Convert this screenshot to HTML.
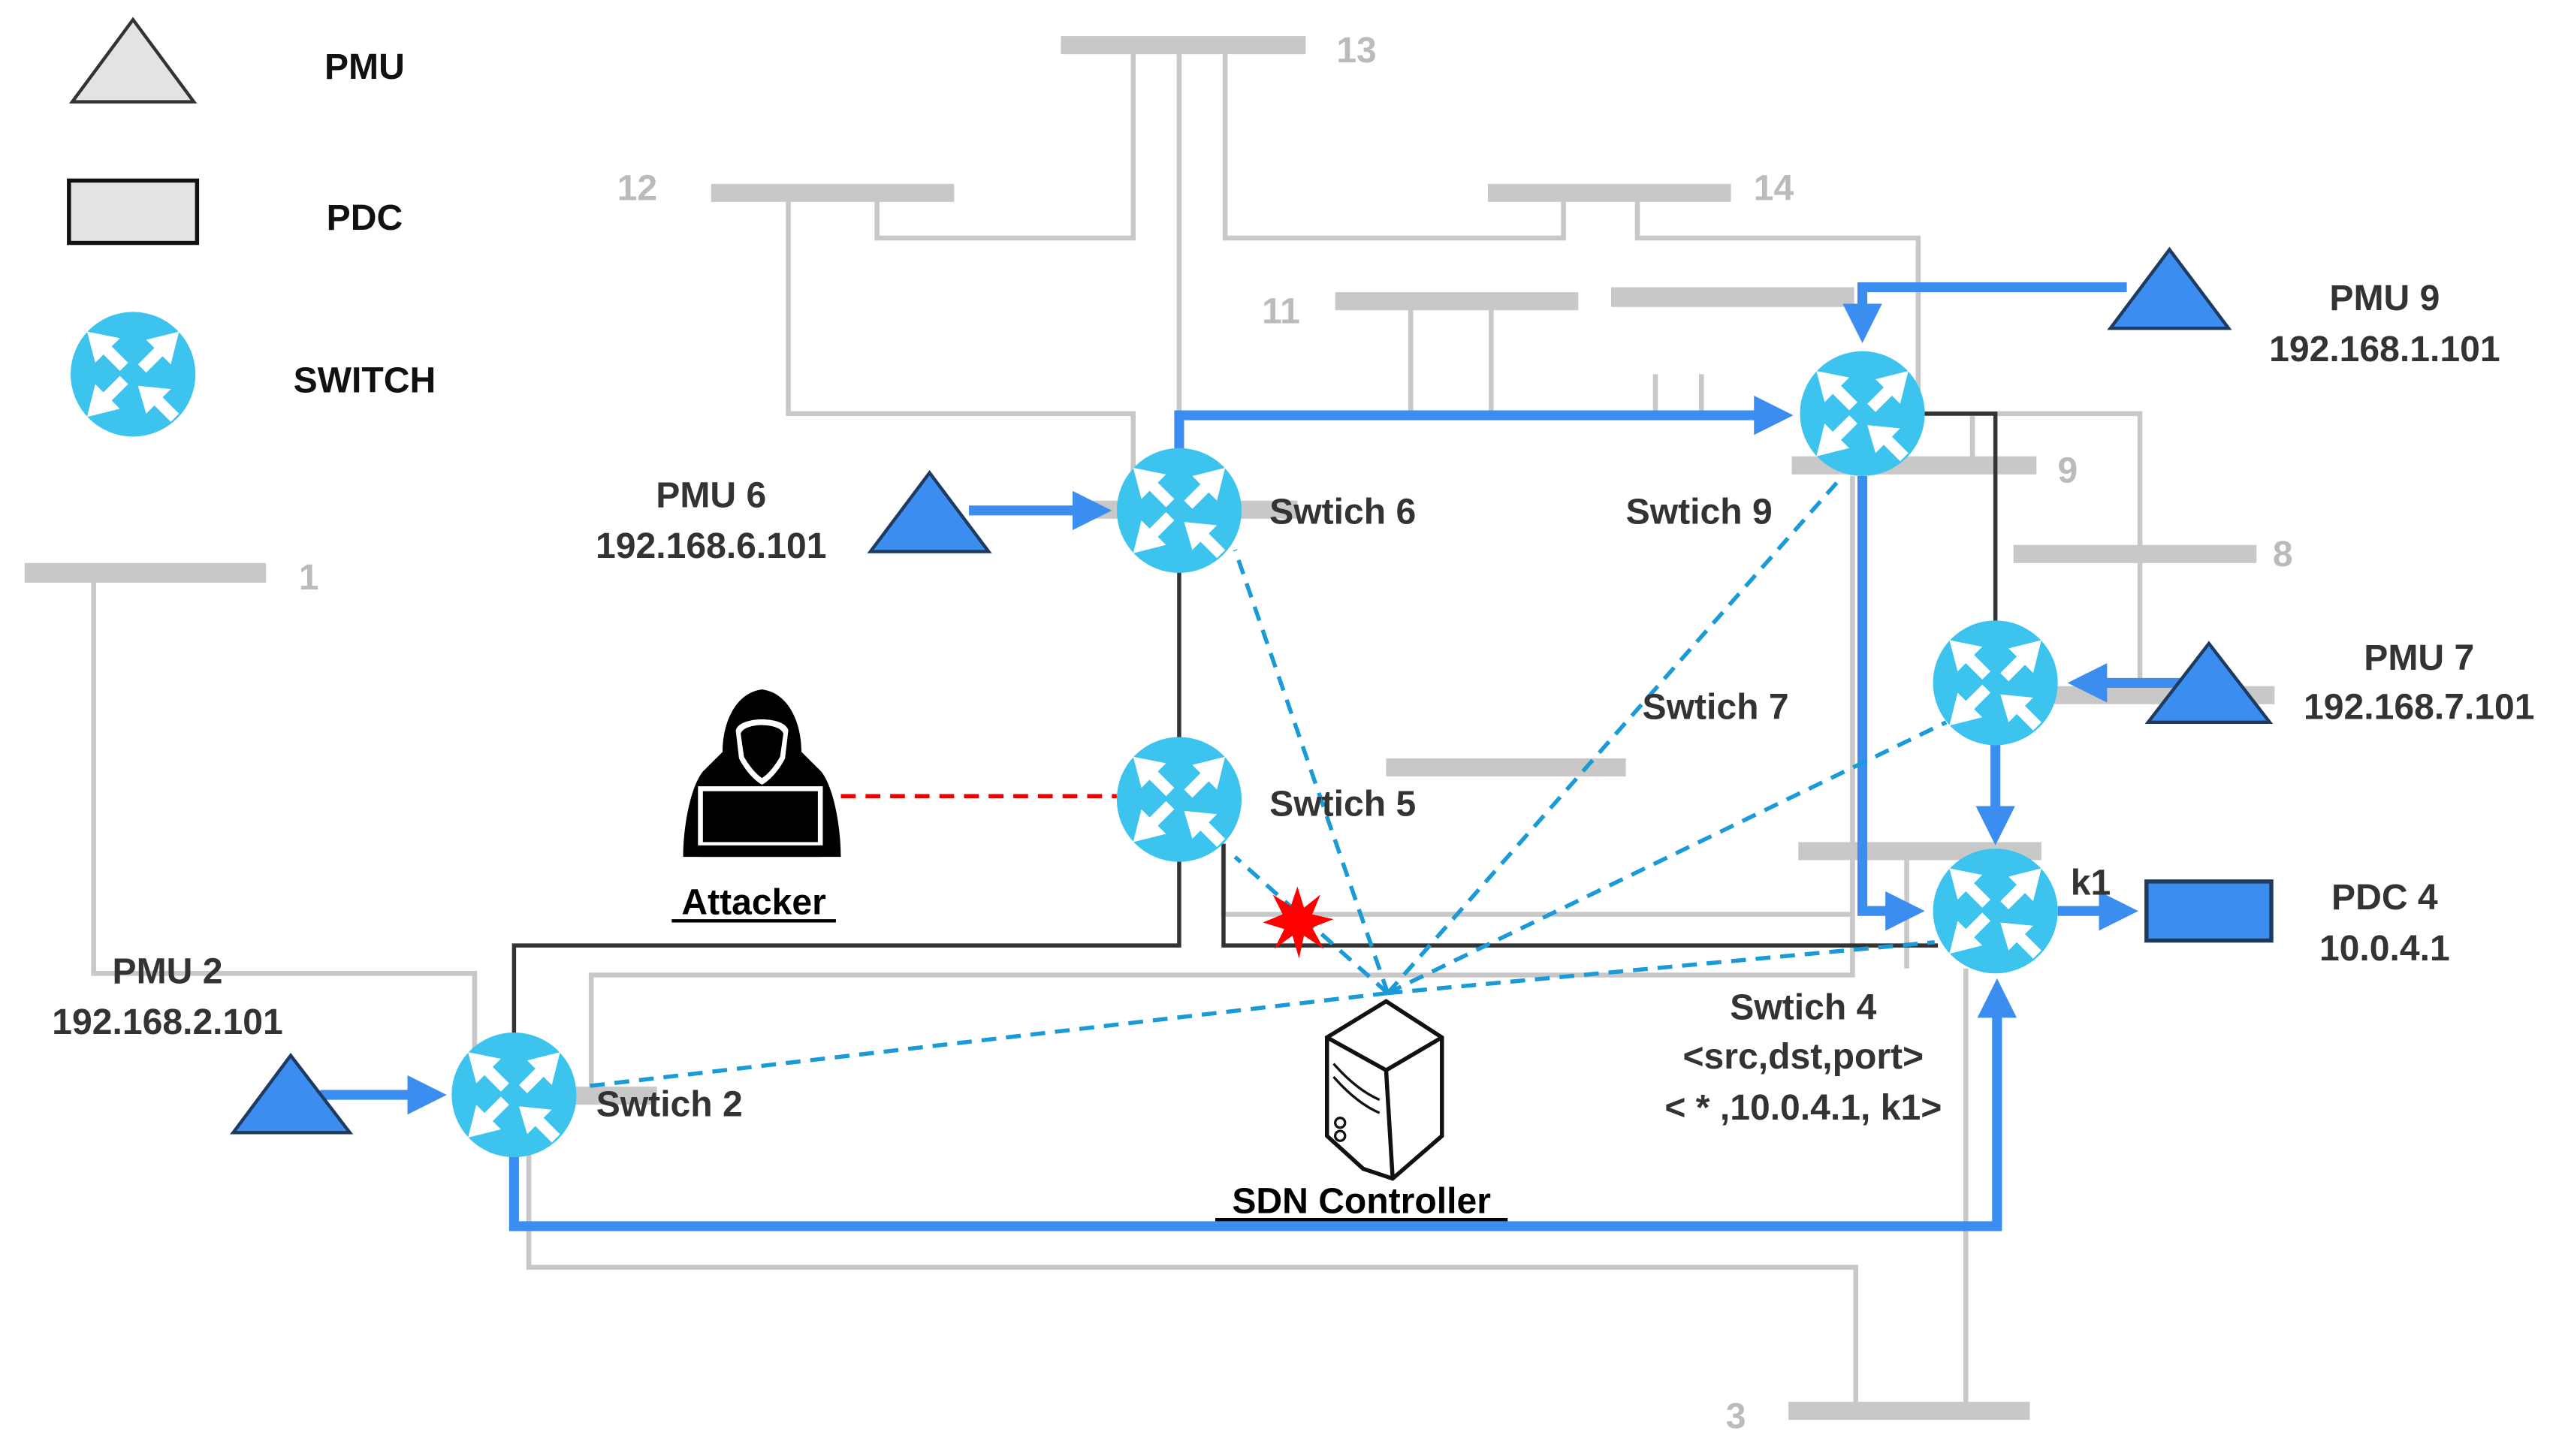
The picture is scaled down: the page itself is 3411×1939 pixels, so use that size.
<!DOCTYPE html>
<html><head><meta charset="utf-8"><style>
html,body{margin:0;padding:0;background:#fff;}
svg{display:block;}
text{font-family:"Liberation Sans",sans-serif;font-weight:bold;}
</style></head><body>
<svg width="3411" height="1939" viewBox="0 0 1560 887" preserveAspectRatio="none" xmlns="http://www.w3.org/2000/svg">
<defs>
<g id="sw">
<ellipse cx="0" cy="0" rx="38" ry="38" fill="#3cc3ee"/>
<g fill="#fff">
<polygon points="-28,-26 -8,-22 -13,-17 -3,-7 -8,-2 -18,-12 -23,-7"/>
<polygon points="28,-26 23,-6 18,-11 8,-1 3,-6 13,-16 8,-21"/>
<polygon points="-28,26 -23,6 -18,11 -8,1 -3,6 -13,16 -8,21"/>
<polygon points="3,7 23,9 18,14 28,24 23,29 13,19 8,24"/>
</g>
</g>
<marker id="ah" markerWidth="4" markerHeight="4" refX="2.5" refY="2" orient="auto" markerUnits="strokeWidth"><polygon points="0,0 4,2 0,4" fill="#3b8ef0"/></marker>
</defs>

<!-- legend -->
<polygon points="81,12 118,62 44,62" fill="#e3e3e3" stroke="#333" stroke-width="2"/>
<text x="222" y="48" font-size="22" text-anchor="middle" fill="#111">PMU</text>
<rect x="42" y="110" width="78" height="38" fill="#e3e3e3" stroke="#111" stroke-width="2.5"/>
<text x="222" y="140" font-size="22" text-anchor="middle" fill="#111">PDC</text>
<use href="#sw" x="81" y="228"/>
<text x="222" y="239" font-size="22" text-anchor="middle" fill="#111">SWITCH</text>

<!-- gray lines -->
<g stroke="#c8c8c8" stroke-width="3" fill="none">
<polyline points="534,117 534,145 690,145 690,27"/>
<polyline points="718,27 718,300"/>
<polyline points="746,27 746,145 952,145 952,117"/>
<polyline points="997,117 997,145 1168,145 1168,252 1215,252"/>
<polyline points="480,117 480,252 690,252 690,300"/>
<line x1="859" y1="184" x2="859" y2="252"/>
<line x1="908" y1="184" x2="908" y2="252"/>
<line x1="1008" y1="228" x2="1008" y2="252"/>
<line x1="1036" y1="228" x2="1036" y2="252"/>
<polyline points="1201,252 1201,284"/>
<polyline points="1215,252 1303,252 1303,424"/>
<polyline points="57,349 57,593 289,593 289,640"/>
<polyline points="360,668 360,594 1128,594 1128,519"/>
<polyline points="745,514 745,557 1128,557"/>
<polyline points="1161,519 1161,590"/>
<polyline points="322,700 322,772 1130,772 1130,860"/>
<line x1="1197" y1="590" x2="1197" y2="860"/>
<line x1="1128" y1="290" x2="1128" y2="519"/>
</g>
<!-- buses -->
<g fill="#c8c8c8">
<rect x="646" y="22" width="149" height="11"/>
<rect x="433" y="112" width="148" height="11"/>
<rect x="906" y="112" width="148" height="11"/>
<rect x="813" y="178" width="148" height="11"/>
<rect x="981" y="175" width="148" height="12"/>
<rect x="1091" y="278" width="149" height="11"/>
<rect x="1226" y="332" width="148" height="11"/>
<rect x="1250" y="418" width="135" height="11"/>
<rect x="844" y="462" width="146" height="11"/>
<rect x="1095" y="513" width="148" height="11"/>
<rect x="15" y="343" width="147" height="12"/>
<rect x="1089" y="854" width="147" height="11"/>
<rect x="330" y="662" width="70" height="11"/>
<rect x="660" y="305" width="130" height="11"/>
</g>
<g fill="#bbb" font-size="22">
<text x="826" y="38" text-anchor="middle">13</text>
<text x="388" y="122" text-anchor="middle">12</text>
<text x="1080" y="122" text-anchor="middle">14</text>
<text x="780" y="197" text-anchor="middle">11</text>
<text x="1259" y="294" text-anchor="middle">9</text>
<text x="1390" y="345" text-anchor="middle">8</text>
<text x="188" y="359" text-anchor="middle">1</text>
<text x="1057" y="870" text-anchor="middle">3</text>
</g>

<!-- black lines -->
<g stroke="#333" stroke-width="2.5" fill="none">
<polyline points="718,340 718,576 313,576 313,632"/>
<polyline points="745,514 745,576 1180,576"/>
<polyline points="1170,252 1215,252 1215,380"/>
</g>

<!-- blue thick -->
<g stroke="#3b8ef0" stroke-width="6" fill="none">
<line x1="590" y1="311" x2="668" y2="311" marker-end="url(#ah)"/>
<polyline points="718,275 718,253 1083,253" marker-end="url(#ah)"/>
<polyline points="1295,175 1134,175 1134,200" marker-end="url(#ah)"/>
<polyline points="1134,290 1134,555 1163,555" marker-end="url(#ah)"/>
<line x1="1330" y1="416" x2="1268" y2="416" marker-end="url(#ah)"/>
<line x1="1215" y1="452" x2="1215" y2="506" marker-end="url(#ah)"/>
<line x1="1253" y1="555" x2="1293" y2="555" marker-end="url(#ah)"/>
<line x1="195" y1="667" x2="263" y2="667" marker-end="url(#ah)"/>
<polyline points="313,700 313,747 1216,747 1216,605" marker-end="url(#ah)"/>
</g>

<!-- PMU triangles -->
<g fill="#3b8ef0" stroke="#1e3a5f" stroke-width="2">
<polygon points="566,288 602,336 530,336"/>
<polygon points="1321,152 1357,200 1285,200"/>
<polygon points="1345,392 1382,440 1308,440"/>
<polygon points="177,643 213,690 142,690"/>
</g>
<rect x="1307" y="537" width="76" height="36" fill="#3b8ef0" stroke="#1e3a5f" stroke-width="2.5"/>

<!-- dashed -->
<g stroke="#1a9ad6" stroke-width="2.5" stroke-dasharray="9,6" fill="none">
<line x1="845" y1="605" x2="752" y2="335"/>
<line x1="845" y1="605" x2="1122" y2="290"/>
<line x1="845" y1="605" x2="1185" y2="440"/>
<line x1="845" y1="605" x2="1178" y2="574"/>
<line x1="845" y1="605" x2="355" y2="662"/>
<line x1="845" y1="605" x2="752" y2="522"/>
</g>
<line x1="512" y1="485" x2="680" y2="485" stroke="#e00" stroke-width="2.5" stroke-dasharray="9,6"/>
<polygon fill="#f00" points="790,540 794,553 804,545 799,557 812,560 799,565 806,578 794,570 791,584 787,570 776,578 782,566 769,562 781,557 775,545 786,552"/>

<!-- switches -->
<use href="#sw" x="718" y="311"/>
<use href="#sw" x="1134" y="252"/>
<use href="#sw" x="718" y="487"/>
<use href="#sw" x="1215" y="416"/>
<use href="#sw" x="1215" y="555"/>
<use href="#sw" x="313" y="667"/>

<!-- server -->
<g fill="#fff" stroke="#111" stroke-width="2.5">
<polygon points="844,610 878,632 878,692 848,718 830,712 808,692 808,632"/>
<polyline points="808,632 844,652 878,632" fill="none"/>
<line x1="844" y1="652" x2="848" y2="718"/>
<path d="M812,648 Q826,664 840,670 M812,656 Q826,672 840,678" fill="none" stroke-width="1.5"/>
<circle cx="816" cy="684" r="3" stroke-width="1.5"/><circle cx="816" cy="692" r="3" stroke-width="1.5"/>
</g>

<!-- attacker -->
<g>
<path d="M464,420 C448,422 440,440 440,458 L428,470 C420,480 416,505 416,522 L512,522 C512,505 508,480 500,470 L488,458 C488,440 480,422 464,420 Z" fill="#000"/>
<path d="M448,445 C450,436 478,436 480,445 L478,462 C474,470 468,476 464,478 C460,476 454,470 450,462 Z" fill="#fff"/>
<path d="M451,447 C453,440 475,440 477,447 L475,461 C471,468 467,472 464,474 C461,472 457,468 453,461 Z" fill="#000"/>
<rect x="425" y="479" width="76" height="36" fill="#fff"/>
<rect x="428" y="482" width="70" height="31" fill="#000"/>
<rect x="426" y="516" width="74" height="6" fill="#000"/>
</g>

<!-- labels -->
<g fill="#333" font-size="22">
<text x="773" y="319">Swtich 6</text>
<text x="990" y="319">Swtich 9</text>
<text x="1000" y="438">Swtich 7</text>
<text x="773" y="497">Swtich 5</text>
<text x="363" y="680">Swtich 2</text>
<text x="1098" y="621" text-anchor="middle">Swtich 4</text>
<text x="1098" y="651" text-anchor="middle">&lt;src,dst,port&gt;</text>
<text x="1098" y="682" text-anchor="middle">&lt; * ,10.0.4.1, k1&gt;</text>
<text x="1273" y="545" text-anchor="middle">k1</text>
<text x="1452" y="554" text-anchor="middle">PDC 4</text>
<text x="1452" y="585" text-anchor="middle">10.0.4.1</text>
<text x="1452" y="189" text-anchor="middle">PMU 9</text>
<text x="1452" y="220" text-anchor="middle">192.168.1.101</text>
<text x="1473" y="408" text-anchor="middle">PMU 7</text>
<text x="1473" y="438" text-anchor="middle">192.168.7.101</text>
<text x="433" y="309" text-anchor="middle">PMU 6</text>
<text x="433" y="340" text-anchor="middle">192.168.6.101</text>
<text x="102" y="599" text-anchor="middle">PMU 2</text>
<text x="102" y="630" text-anchor="middle">192.168.2.101</text>
</g>
<g fill="#000" font-size="22">
<text x="459" y="557" text-anchor="middle">Attacker</text>
<line x1="409" y1="561" x2="509" y2="561" stroke="#000" stroke-width="2"/>
<text x="829" y="739" text-anchor="middle">SDN Controller</text>
<line x1="740" y1="743" x2="918" y2="743" stroke="#000" stroke-width="2"/>
</g>
</svg>
</body></html>
